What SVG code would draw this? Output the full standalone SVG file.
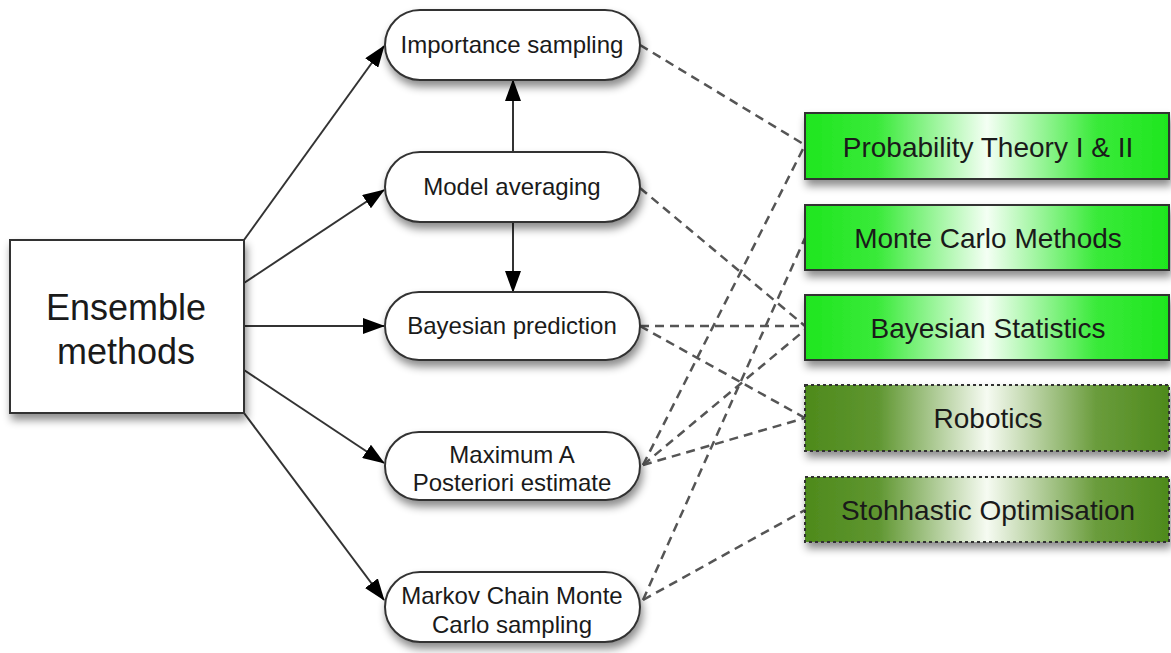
<svg xmlns="http://www.w3.org/2000/svg" width="1171" height="653" viewBox="0 0 1171 653">
<defs>
<filter id="sh" x="-10%" y="-20%" width="130%" height="160%">
<feDropShadow dx="2" dy="6" stdDeviation="4" flood-color="#000" flood-opacity="0.45"/>
</filter>
<linearGradient id="gBright" x1="0" y1="0" x2="1" y2="0">
<stop offset="0" stop-color="#1ee61e"/>
<stop offset="0.2" stop-color="#3aea3a"/>
<stop offset="0.5" stop-color="#f4fff4"/>
<stop offset="0.8" stop-color="#3aea3a"/>
<stop offset="1" stop-color="#1ee61e"/>
</linearGradient>
<linearGradient id="gDark" x1="0" y1="0" x2="1" y2="0">
<stop offset="0" stop-color="#4e8a1c"/>
<stop offset="0.2" stop-color="#5f9630"/>
<stop offset="0.5" stop-color="#f6fbf2"/>
<stop offset="0.8" stop-color="#6a9c3c"/>
<stop offset="1" stop-color="#4e8a1c"/>
</linearGradient>
<marker id="ah" markerWidth="22" markerHeight="16" refX="21" refY="8" orient="auto" markerUnits="userSpaceOnUse" viewBox="0 0 22 16">
<path d="M0,0 L22,8 L0,16 z" fill="#000"/>
</marker>
<style>
.pill{fill:#fff;stroke:#333;stroke-width:2;filter:url(#sh)}
.box{stroke:#333;stroke-width:2;filter:url(#sh)}
.dot{stroke:#333;stroke-width:2;stroke-dasharray:3 3;filter:url(#sh)}
.t{font-family:"Liberation Sans",Arial,sans-serif;fill:#1a1a1a;text-anchor:middle}
.arr{stroke:#333;stroke-width:2;fill:none;marker-end:url(#ah)}
.dash{stroke:#555;stroke-width:2.5;fill:none;stroke-dasharray:9 6}
</style>
</defs>
<g id="connectors">
<line class="arr" x1="244" y1="240" x2="384" y2="46"/>
<line class="arr" x1="244" y1="283" x2="384" y2="190"/>
<line class="arr" x1="244" y1="326" x2="384" y2="326"/>
<line class="arr" x1="244" y1="370" x2="384" y2="463"/>
<line class="arr" x1="244" y1="413" x2="384" y2="600"/>
<line class="arr" x1="513" y1="152" x2="513" y2="80"/>
<line class="arr" x1="513" y1="222" x2="513" y2="292"/>
<line class="dash" x1="640" y1="45" x2="805" y2="145"/>
<line class="dash" x1="640" y1="188" x2="805" y2="326"/>
<line class="dash" x1="640" y1="326" x2="805" y2="326"/>
<line class="dash" x1="640" y1="326" x2="805" y2="418"/>
<line class="dash" x1="643" y1="465" x2="805" y2="145"/>
<line class="dash" x1="643" y1="465" x2="805" y2="330"/>
<line class="dash" x1="643" y1="465" x2="805" y2="418"/>
<line class="dash" x1="643" y1="600" x2="805" y2="238"/>
<line class="dash" x1="643" y1="600" x2="805" y2="510"/>
</g>
<g id="ensemble">
<rect x="10" y="240" width="234" height="173" fill="#fff" stroke="#333" stroke-width="2" filter="url(#sh)"/>
<text class="t" x="126" y="320" font-size="36">Ensemble</text>
<text class="t" x="126" y="364" font-size="36">methods</text>
</g>
<g id="importance">
<rect class="pill" x="385" y="10" width="255" height="70" rx="35"/>
<text class="t" x="512" y="53" font-size="24">Importance sampling</text>
</g>
<g id="model">
<rect class="pill" x="385" y="152" width="255" height="70" rx="35"/>
<text class="t" x="512" y="195" font-size="24">Model averaging</text>
</g>
<g id="bayespred">
<rect class="pill" x="385" y="292" width="255" height="68" rx="34"/>
<text class="t" x="512" y="334" font-size="24">Bayesian prediction</text>
</g>
<g id="map">
<rect class="pill" x="385" y="432" width="255" height="68" rx="34"/>
<text class="t" x="512" y="463" font-size="24">Maximum A</text>
<text class="t" x="512" y="491" font-size="24">Posteriori estimate</text>
</g>
<g id="mcmc">
<rect class="pill" x="385" y="572" width="255" height="70" rx="35"/>
<text class="t" x="512" y="604" font-size="24">Markov Chain Monte</text>
<text class="t" x="512" y="633" font-size="24">Carlo sampling</text>
</g>
<g id="probability">
<rect class="box" x="805" y="113" width="364" height="66" fill="url(#gBright)"/>
<text class="t" x="988" y="157" font-size="28">Probability Theory I &amp; II</text>
</g>
<g id="montecarlo">
<rect class="box" x="805" y="205" width="364" height="65" fill="url(#gBright)"/>
<text class="t" x="988" y="248" font-size="28">Monte Carlo Methods</text>
</g>
<g id="bayesstat">
<rect class="box" x="805" y="295" width="364" height="65" fill="url(#gBright)"/>
<text class="t" x="988" y="338" font-size="28">Bayesian Statistics</text>
</g>
<g id="robotics">
<rect class="dot" x="805" y="385" width="364" height="66" fill="url(#gDark)"/>
<text class="t" x="988" y="428" font-size="28">Robotics</text>
</g>
<g id="stohhastic">
<rect class="dot" x="805" y="477" width="364" height="65" fill="url(#gDark)"/>
<text class="t" x="988" y="520" font-size="28">Stohhastic Optimisation</text>
</g>
</svg>
